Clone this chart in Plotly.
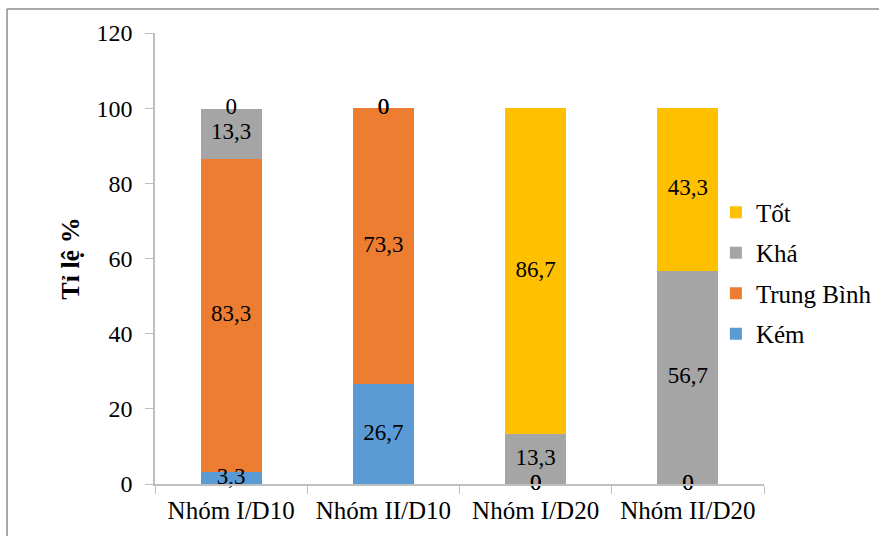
import plotly.graph_objects as go

categories = ["Nhóm I/D10", "Nhóm II/D10", "Nhóm I/D20", "Nhóm II/D20"]
kem = [3.3, 26.7, 0, 0]
trung_binh = [83.3, 73.3, 0, 0]
kha = [13.3, 0, 13.3, 56.7]
tot = [0, 0, 86.7, 43.3]

series = [
    ("Kém", kem, "#5B9BD5"),
    ("Trung Bình", trung_binh, "#ED7D31"),
    ("Khá", kha, "#A5A5A5"),
    ("Tốt", tot, "#FFC000"),
]

FONT = "Liberation Serif"

fig = go.Figure()
for i, (name, vals, color) in enumerate(series):
    fig.add_trace(go.Bar(
        x=categories, y=vals, name=name, marker=dict(color=color, line=dict(width=0)),
        width=0.4, legendgroup=name, legendrank=len(series) - i,
    ))

# data labels centred in each segment (zero values included)
base = [0.0] * len(categories)
for name, vals, color in series:
    mids = [b + v / 2 for b, v in zip(base, vals)]
    texts = [("%g" % v).replace(".", ",") for v in vals]
    fig.add_trace(go.Scatter(
        x=categories, y=mids, text=texts, mode="text", showlegend=False,
        textfont=dict(family=FONT, size=23, color="black"), cliponaxis=False,
        hoverinfo="skip",
    ))
    base = [b + v for b, v in zip(base, vals)]

fig.update_layout(
    width=879, height=536,
    margin=dict(l=155, r=115, t=33, b=52, autoexpand=False),
    barmode="stack",
    plot_bgcolor="white", paper_bgcolor="white",
    font=dict(family=FONT, size=24, color="black"),
    legend=dict(
        x=0.921, xanchor="left", y=0.653, yanchor="top",
        traceorder="grouped", tracegroupgap=5,
        font=dict(family=FONT, size=25, color="black"),
        bgcolor="rgba(0,0,0,0)",
    ),
    showlegend=True,
)
fig.update_xaxes(
    type="category", tickson="boundaries", ticks="outside", ticklen=8,
    tickcolor="#BFBFBF", showline=True, linecolor="#BFBFBF", linewidth=1.5,
    showgrid=False, tickfont=dict(family=FONT, size=25), ticklabelstandoff=3,
    automargin=False,
)
fig.update_yaxes(
    range=[0, 120], dtick=20, ticks="outside", ticklen=8, tickcolor="#BFBFBF",
    showline=True, linecolor="#BFBFBF", linewidth=1.5, showgrid=False, zeroline=False,
    tickfont=dict(family=FONT, size=24), ticklabelstandoff=8, automargin=False,
    title=dict(text="<b>Tỉ lệ %</b>", font=dict(family=FONT, size=26), standoff=9),
)

# outer chart frame (top and left edges visible)
fig.add_shape(type="line", xref="paper", yref="paper", x0=-0.243, x1=1.3, y0=1.053, y1=1.053,
              line=dict(color="#8C8C8C", width=1.5))
fig.add_shape(type="line", xref="paper", yref="paper", x0=-0.243, x1=-0.243, y0=1.053, y1=-0.2,
              line=dict(color="#8C8C8C", width=1.5))

fig.write_html("out.html")
